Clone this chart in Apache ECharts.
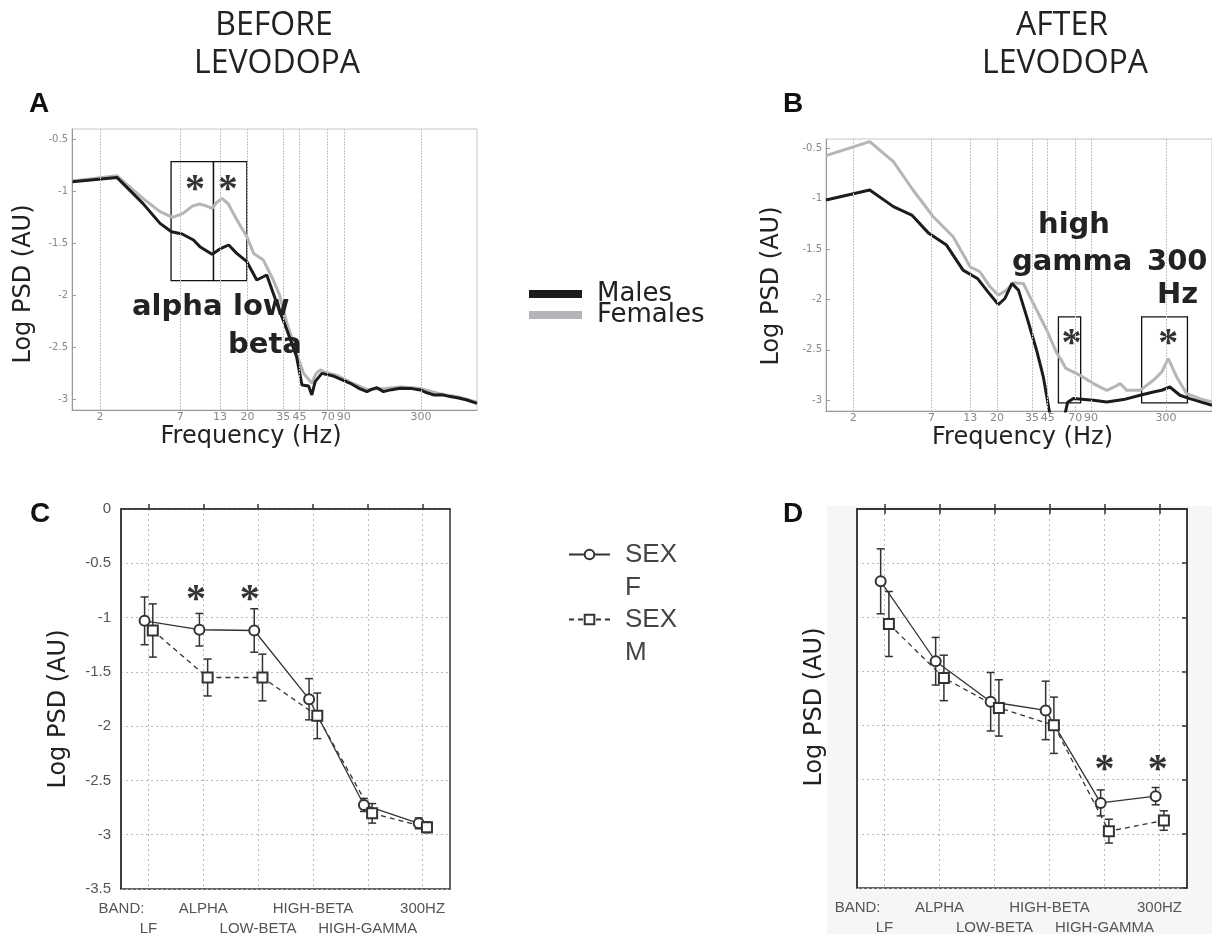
<!DOCTYPE html>
<html>
<head>
<meta charset="utf-8">
<script src="https://cdn.jsdelivr.net/npm/echarts@6/dist/echarts.min.js"></script>
<style>html,body{margin:0;padding:0;background:#fff;}#c{width:1212px;height:934px;}</style>
</head>
<body>
<div id="c"></div>
<script>
// ---------- DATA ----------
// Panel A (before levodopa) spectra: frequency (Hz) and log PSD
const freqA_M = [1.3, 2.6, 3.9, 5.1, 6.1, 7.2, 8.6, 9.5, 11.5, 13, 14.9, 16.9, 19.8, 23.1, 27, 31.6, 37, 43, 46.8, 51.9, 54.6, 57.5, 63.8, 76.6, 99.5, 115, 129, 140, 151, 167, 190, 217, 260, 297, 330, 366, 420, 474, 540, 615, 720];
const psdA_M  = [-0.908, -0.866, -1.116, -1.309, -1.389, -1.411, -1.469, -1.533, -1.607, -1.555, -1.517, -1.598, -1.678, -1.854, -1.806, -2.079, -2.336, -2.592, -2.865, -2.875, -2.961, -2.833, -2.753, -2.779, -2.849, -2.9, -2.929, -2.905, -2.891, -2.929, -2.91, -2.897, -2.9, -2.913, -2.94, -2.961, -2.96, -2.977, -2.99, -3.01, -3.042];
const freqA_F = [1.3, 2.6, 3.9, 5.1, 6.2, 7.3, 8.5, 9.5, 10.5, 11.5, 12.3, 13.4, 14.8, 16, 17.5, 19.8, 22, 25.6, 29.9, 33, 37, 43, 48, 54.6, 58, 62, 70, 80, 100, 130, 170, 220, 300, 400, 540, 720];
const psdA_F  = [-0.9, -0.85, -1.068, -1.196, -1.251, -1.212, -1.14, -1.123, -1.14, -1.164, -1.11, -1.068, -1.12, -1.212, -1.31, -1.437, -1.598, -1.662, -1.854, -2.0, -2.271, -2.56, -2.753, -2.849, -2.76, -2.721, -2.75, -2.77, -2.84, -2.91, -2.9, -2.885, -2.9, -2.95, -2.98, -3.03];
// Panel B (after levodopa)
const freqB_M = [1.29, 2.6, 3.8, 5.1, 6.7, 8.9, 11.6, 14.6, 17.3, 20.4, 22.7, 25.4, 28.2, 32.2, 37.7, 42, 45.3, 50, 56, 62, 68, 94, 116, 152, 198, 245, 280, 319, 375, 439, 627];
const psdB_M  = [-1.013, -0.914, -1.079, -1.162, -1.344, -1.46, -1.709, -1.791, -1.924, -2.05, -1.99, -1.841, -1.907, -2.172, -2.503, -2.768, -3.033, -3.4, -3.3, -3.02, -2.983, -3.0, -3.017, -2.993, -2.95, -2.917, -2.9, -2.868, -2.95, -2.983, -3.05];
const freqB_F = [1.29, 2.6, 3.8, 5.2, 7.2, 9.9, 13.0, 15.2, 17.9, 20.4, 23.3, 26, 30.5, 35.8, 44.4, 52, 56, 60, 75.6, 93.7, 116, 130, 144, 160, 198, 245, 280, 311, 356, 418, 517, 627];
const psdB_F  = [-0.573, -0.434, -0.632, -0.914, -1.179, -1.377, -1.675, -1.725, -1.874, -1.957, -1.907, -1.834, -1.841, -2.04, -2.305, -2.53, -2.6, -2.68, -2.752, -2.834, -2.901, -2.87, -2.834, -2.901, -2.901, -2.801, -2.72, -2.586, -2.768, -2.934, -2.983, -3.017];
// frequency tick labels of A and B
const freqTicks = [2, 7, 13, 20, 35, 45, 70, 90, 300];
const psdTicks = [-3, -2.5, -2, -1.5, -1, -0.5];
// significance boxes [fromHz, toHz, topPSD, bottomPSD]
const boxesA = [[6.06, 11.75, -0.715, -1.861], [11.75, 19.8, -0.715, -1.861]];
const boxesB = [[53.5, 76.4, -2.172, -3.026], [203, 423, -2.172, -3.026]];
const starsA = [[8.8, -0.92], [14.7, -0.92]];
const starsB = [[66, -2.37], [311, -2.37]];
// Panels C and D: band means with error bars
const bands = ['LF', 'ALPHA', 'LOW-BETA', 'HIGH-BETA', 'HIGH-GAMMA', '300HZ'];
const bandPos = [1, 2, 3, 4, 5, 6];
const bandRowTop = [2, 4, 6];      // label positions on the first text row
const bandRowBottom = [1, 3, 5];   // label positions on the second text row
const meanC_F = [-1.03, -1.112, -1.119, -1.752, -2.726, -2.895];
const errC_F  = [0.22, 0.15, 0.2, 0.19, 0.06, 0.05];
const meanC_M = [-1.119, -1.552, -1.552, -1.905, -2.803, -2.932];
const errC_M  = [0.245, 0.17, 0.215, 0.21, 0.09, 0.05];
const meanD_F = [-0.668, -1.406, -1.78, -1.86, -2.714, -2.652];
const errD_F  = [0.3, 0.22, 0.27, 0.27, 0.12, 0.08];
const meanD_M = [-1.062, -1.56, -1.837, -1.997, -2.975, -2.877];
const errD_M  = [0.3, 0.21, 0.26, 0.26, 0.11, 0.09];
const starsC = [[1.87, -0.77], [2.85, -0.77]];
const starsD = [[5.0, -2.345], [5.97, -2.345]];

// ---------- helpers ----------
const F_OFF = -0.07, M_OFF = 0.08;
const zip = (a, b) => a.map((v, i) => [v, b[i]]);
const ptsOff = (m, off) => m.map((v, i) => [bandPos[i] + off, v]);
const errData = (m, e, off) => m.map((v, i) => [bandPos[i] + off, v - e[i], v + e[i]]);
function errRender(params, api) {
  const x = api.value(0), lo = api.value(1), hi = api.value(2);
  const p1 = api.coord([x, hi]), p2 = api.coord([x, lo]);
  const w = 4;
  const st = {stroke: '#333', lineWidth: 1.5, fill: null};
  return {type: 'group', children: [
    {type: 'line', shape: {x1: p1[0], y1: p1[1], x2: p2[0], y2: p2[1]}, style: st},
    {type: 'line', shape: {x1: p1[0] - w, y1: p1[1], x2: p1[0] + w, y2: p1[1]}, style: st},
    {type: 'line', shape: {x1: p2[0] - w, y1: p2[1], x2: p2[0] + w, y2: p2[1]}, style: st}
  ]};
}
const boxArea = bx => bx.map(b => [{coord: [b[0], b[2]]}, {coord: [b[1], b[3]]}]);
const starLabel = {show: true, formatter: '*', position: 'inside', fontSize: 40, fontWeight: 'bold',
  fontFamily: 'Liberation Serif', color: '#000', offset: [0, 8]};
const GREY = '#b5b5b9', BLACK = '#1c1c1c';
const bandName = v => { const i = bandPos.indexOf(v); return i < 0 ? '' : bands[i]; };
const catFont = {fontFamily: 'Liberation Sans', fontSize: 15, color: '#555'};
const dotted = {show: true, lineStyle: {color: '#bbb', type: [2, 3], width: 1}};
const AXC = '#333';

function bandAxisMain(gi) {
  return {type: 'value', gridIndex: gi, min: 0.5, max: 6.5, position: 'bottom',
    axisLabel: Object.assign({customValues: bandRowTop, formatter: bandName, margin: 12,
      showMinLabel: true, showMaxLabel: true}, catFont),
    axisTick: {customValues: bandPos, inside: true, length: 5, lineStyle: {color: AXC, width: 1.5}},
    splitLine: dotted, axisLine: {lineStyle: {color: AXC, width: 1.5}}};
}
function bandAxisRow2(gi) {
  return {type: 'value', gridIndex: gi, min: 0.5, max: 6.5, position: 'bottom', offset: 20,
    axisLabel: Object.assign({customValues: bandRowBottom, formatter: bandName, margin: 12,
      showMinLabel: true, showMaxLabel: true}, catFont),
    axisTick: {show: false}, splitLine: {show: false}, axisLine: {show: false}};
}
function bandAxisTitle(gi) {
  return {type: 'value', gridIndex: gi, min: 0.5, max: 6.5, position: 'bottom', offset: 0,
    axisLabel: Object.assign({customValues: [bandPos[0]], formatter: () => 'BAND:', margin: 12,
      align: 'right', padding: [0, 4, 0, 0], showMinLabel: true, showMaxLabel: true}, catFont),
    axisTick: {show: false}, splitLine: {show: false}, axisLine: {show: false}};
}
function freqAxis(gi, max, pad) {
  return {type: 'log', gridIndex: gi, min: 1.29, max: max,
    axisLabel: {show: false}, axisTick: {show: false}, splitLine: {show: false},
    axisLine: {lineStyle: {color: '#999'}},
    name: 'Frequency (Hz)', nameLocation: 'middle', nameGap: 15,
    nameTextStyle: {fontFamily: 'DejaVu Sans', fontSize: 24, color: '#222', padding: pad}};
}
function psdAxis(gi, max, pad, gap) {
  return {type: 'value', gridIndex: gi, min: -3.106, max: max,
    axisLabel: {customValues: psdTicks, fontSize: 10, color: '#888', fontFamily: 'DejaVu Sans', margin: 4},
    axisTick: {customValues: psdTicks, inside: true, length: 4, lineStyle: {color: '#999'}},
    splitLine: {show: false}, axisLine: {lineStyle: {color: '#999'}},
    name: 'Log PSD (AU)', nameLocation: 'middle', nameGap: gap, nameRotate: 90,
    nameTextStyle: {fontFamily: 'DejaVu Sans', fontSize: 24, color: '#222', padding: pad}};
}
function gridLinesSeries(xi, yi) {
  return {type: 'scatter', xAxisIndex: xi, yAxisIndex: yi, data: [], silent: true, z: 1,
    markLine: {silent: true, symbol: ['none', 'none'], animation: false,
      lineStyle: {color: '#c4c4c4', width: 1, type: [2, 1]},
      label: {show: true, position: 'start', distance: 2, formatter: p => String(p.value),
        fontSize: 11, color: '#888', fontFamily: 'DejaVu Sans'},
      data: freqTicks.map(f => ({xAxis: f}))}};
}
function curve(name, xi, yi, f, v, color) {
  return {name: name, type: 'line', xAxisIndex: xi, yAxisIndex: yi, data: zip(f, v),
    showSymbol: false, symbol: 'none', lineStyle: {color: color, width: 3}, itemStyle: {color: color}, z: 3};
}
function annot(xi, yi, stars, boxes) {
  return {type: 'scatter', xAxisIndex: xi, yAxisIndex: yi, data: stars, symbolSize: 0.1,
    itemStyle: {color: 'rgba(0,0,0,0)'}, label: starLabel, silent: true, z: 4,
    markArea: {silent: true, itemStyle: {color: 'rgba(0,0,0,0)', borderColor: '#111', borderWidth: 1.3},
      data: boxArea(boxes)}};
}
function bandSeries(name, xi, yi, m, off, sym, dashed) {
  return {name: name, type: 'line', xAxisIndex: xi, yAxisIndex: yi, data: ptsOff(m, off),
    symbol: sym, symbolSize: 10, z: 4,
    lineStyle: {color: '#333', width: 1.3, type: dashed ? [5, 4] : 'solid'},
    itemStyle: {color: '#333', borderColor: '#333', borderWidth: 1.3}};
}
function errSeries(xi, yi, m, e, off) {
  return {type: 'custom', xAxisIndex: xi, yAxisIndex: yi, data: errData(m, e, off),
    renderItem: errRender, encode: {x: 0, y: [1, 2]}, silent: true, z: 2};
}
function starSeries(xi, yi, s) {
  return {type: 'scatter', xAxisIndex: xi, yAxisIndex: yi, data: s, symbolSize: 0.1,
    itemStyle: {color: 'rgba(0,0,0,0)'}, label: starLabel, silent: true, z: 5};
}
function txt(text, x, y, size, opts) {
  opts = opts || {};
  return {type: 'text', x: x, y: y, z: 10, silent: true,
    style: {text: text, fontSize: size, fontFamily: opts.family || 'DejaVu Sans',
      fontWeight: opts.weight || 'normal', fill: opts.color || '#222',
      align: opts.align || 'left', verticalAlign: 'middle',
      textAlign: opts.align || 'left', textVerticalAlign: 'middle'}};
}

const option = {
  animation: false,
  backgroundColor: '#fff',
  grid: [
    {left: 72, top: 129, width: 405, height: 281, show: true, borderColor: '#c8c8c8', backgroundColor: '#fff', outerBoundsMode: 'none'},
    {left: 826, top: 139, width: 386, height: 272, show: true, borderColor: '#c8c8c8', backgroundColor: '#fff', outerBoundsMode: 'none'},
    {left: 121, top: 509, width: 329, height: 380, show: true, borderColor: AXC, borderWidth: 1.5, backgroundColor: '#fff', outerBoundsMode: 'none'},
    {left: 857, top: 509, width: 330, height: 379, show: true, borderColor: AXC, borderWidth: 1.5, backgroundColor: '#fff', outerBoundsMode: 'none'}
  ],
  xAxis: [
    freqAxis(0, 720, [0, 47, 0, 0]),
    freqAxis(1, 627, [0, 0, 0, 7]),
    bandAxisMain(2),
    bandAxisMain(3),
    bandAxisRow2(2),
    bandAxisRow2(3),
    bandAxisTitle(2),
    bandAxisTitle(3),
    {type: 'value', gridIndex: 3, min: 0.5, max: 6.5, position: 'top',
      axisLabel: {show: false}, splitLine: {show: false}, axisLine: {lineStyle: {color: AXC, width: 1.5}},
      axisTick: {customValues: bandPos, inside: true, length: 5, lineStyle: {color: AXC, width: 1.5}}}
  ],
  yAxis: [
    psdAxis(0, -0.4, [0, 29, 0, 0], 36),
    psdAxis(1, -0.408, [0, 22, 0, 0], 42),
    {type: 'value', gridIndex: 2, min: -3.5, max: 0, interval: 0.5, position: 'left',
      axisLabel: {fontFamily: 'Liberation Sans', fontSize: 15, color: '#555', margin: 10},
      axisTick: {show: false}, splitLine: dotted, axisLine: {lineStyle: {color: AXC, width: 1.5}},
      name: 'Log PSD (AU)', nameLocation: 'middle', nameGap: 50, nameRotate: 90,
      nameTextStyle: {fontFamily: 'DejaVu Sans', fontSize: 24, color: '#222', padding: [0, 20, 0, 0]}},
    {type: 'value', gridIndex: 3, min: -3.5, max: 0, interval: 0.5, position: 'left',
      axisLabel: {show: false}, axisTick: {show: false}, splitLine: dotted,
      axisLine: {lineStyle: {color: AXC, width: 1.5}},
      name: 'Log PSD (AU)', nameLocation: 'middle', nameGap: 30, nameRotate: 90,
      nameTextStyle: {fontFamily: 'DejaVu Sans', fontSize: 24, color: '#222', padding: [0, 17, 0, 0]}},
    {type: 'value', gridIndex: 3, min: -3.5, max: 0, interval: 0.5, position: 'right',
      axisLabel: {show: false}, splitLine: {show: false},
      axisLine: {lineStyle: {color: AXC, width: 1.5}},
      axisTick: {inside: true, length: 5, lineStyle: {color: AXC, width: 1.5}}}
  ],
  legend: [
    {data: ['Males', 'Females'], orient: 'vertical', left: 524, top: 276, icon: 'rect',
      itemWidth: 53, itemHeight: 8, itemGap: -5, selectedMode: false,
      textStyle: {fontFamily: 'DejaVu Sans', fontSize: 26, color: '#222', lineHeight: 21, padding: [0, 0, 0, 10]}},
    {data: ['SEX F'], orient: 'vertical', left: 563, top: 500, itemWidth: 41, itemHeight: 12,
      selectedMode: false, formatter: n => '\n' + n.replace(' ', '\n'),
      textStyle: {fontFamily: 'Liberation Sans', fontSize: 26, color: '#444', lineHeight: 33, padding: [0, 0, 0, 10]}},
    {data: ['SEX M'], orient: 'vertical', left: 563, top: 565, itemWidth: 41, itemHeight: 12,
      selectedMode: false, formatter: n => '\n' + n.replace(' ', '\n'),
      textStyle: {fontFamily: 'Liberation Sans', fontSize: 26, color: '#444', lineHeight: 33, padding: [0, 0, 0, 10]}}
  ],
  series: [
    gridLinesSeries(0, 0),
    gridLinesSeries(1, 1),
    curve('Females', 0, 0, freqA_F, psdA_F, GREY),
    curve('Males', 0, 0, freqA_M, psdA_M, BLACK),
    curve('Females', 1, 1, freqB_F, psdB_F, GREY),
    curve('Males', 1, 1, freqB_M, psdB_M, BLACK),
    annot(0, 0, starsA, boxesA),
    annot(1, 1, starsB, boxesB),
    errSeries(2, 2, meanC_F, errC_F, F_OFF),
    errSeries(2, 2, meanC_M, errC_M, M_OFF),
    bandSeries('SEX F', 2, 2, meanC_F, F_OFF, 'emptyCircle', false),
    bandSeries('SEX M', 2, 2, meanC_M, M_OFF, 'emptyRect', true),
    starSeries(2, 2, starsC),
    errSeries(3, 3, meanD_F, errD_F, F_OFF),
    errSeries(3, 3, meanD_M, errD_M, M_OFF),
    bandSeries('SEX F', 3, 3, meanD_F, F_OFF, 'emptyCircle', false),
    bandSeries('SEX M', 3, 3, meanD_M, M_OFF, 'emptyRect', true),
    starSeries(3, 3, starsD)
  ],
  graphic: [
    {type: 'rect', z: -1, silent: true, shape: {x: 827, y: 506, width: 385, height: 428}, style: {fill: '#f6f6f6'}},
    txt('BEFORE', 274, 26, 32, {family: 'Open Sans', align: 'center'}),
    txt('LEVODOPA', 277, 64, 32, {family: 'Open Sans', align: 'center'}),
    txt('AFTER', 1062, 26, 32, {family: 'Open Sans', align: 'center'}),
    txt('LEVODOPA', 1065, 64, 32, {family: 'Open Sans', align: 'center'}),
    txt('A', 29, 104, 28, {family: 'Liberation Sans', weight: 'bold', color: '#111'}),
    txt('B', 783, 104, 28, {family: 'Liberation Sans', weight: 'bold', color: '#111'}),
    txt('C', 30, 514, 28, {family: 'Liberation Sans', weight: 'bold', color: '#111'}),
    txt('D', 783, 514, 28, {family: 'Liberation Sans', weight: 'bold', color: '#111'}),
    txt('alpha', 132, 307, 29, {weight: 'bold'}),
    txt('low', 233, 307, 29, {weight: 'bold'}),
    txt('beta', 228, 345, 29, {weight: 'bold'}),
    txt('high', 1038, 225, 29, {weight: 'bold'}),
    txt('gamma', 1012, 262, 29, {weight: 'bold'}),
    txt('300', 1147, 262, 29, {weight: 'bold'}),
    txt('Hz', 1157, 295, 29, {weight: 'bold'})
  ]
};
const chart = echarts.init(document.getElementById('c'), null, {renderer: 'canvas'});
chart.setOption(option);
</script>
</body>
</html>
